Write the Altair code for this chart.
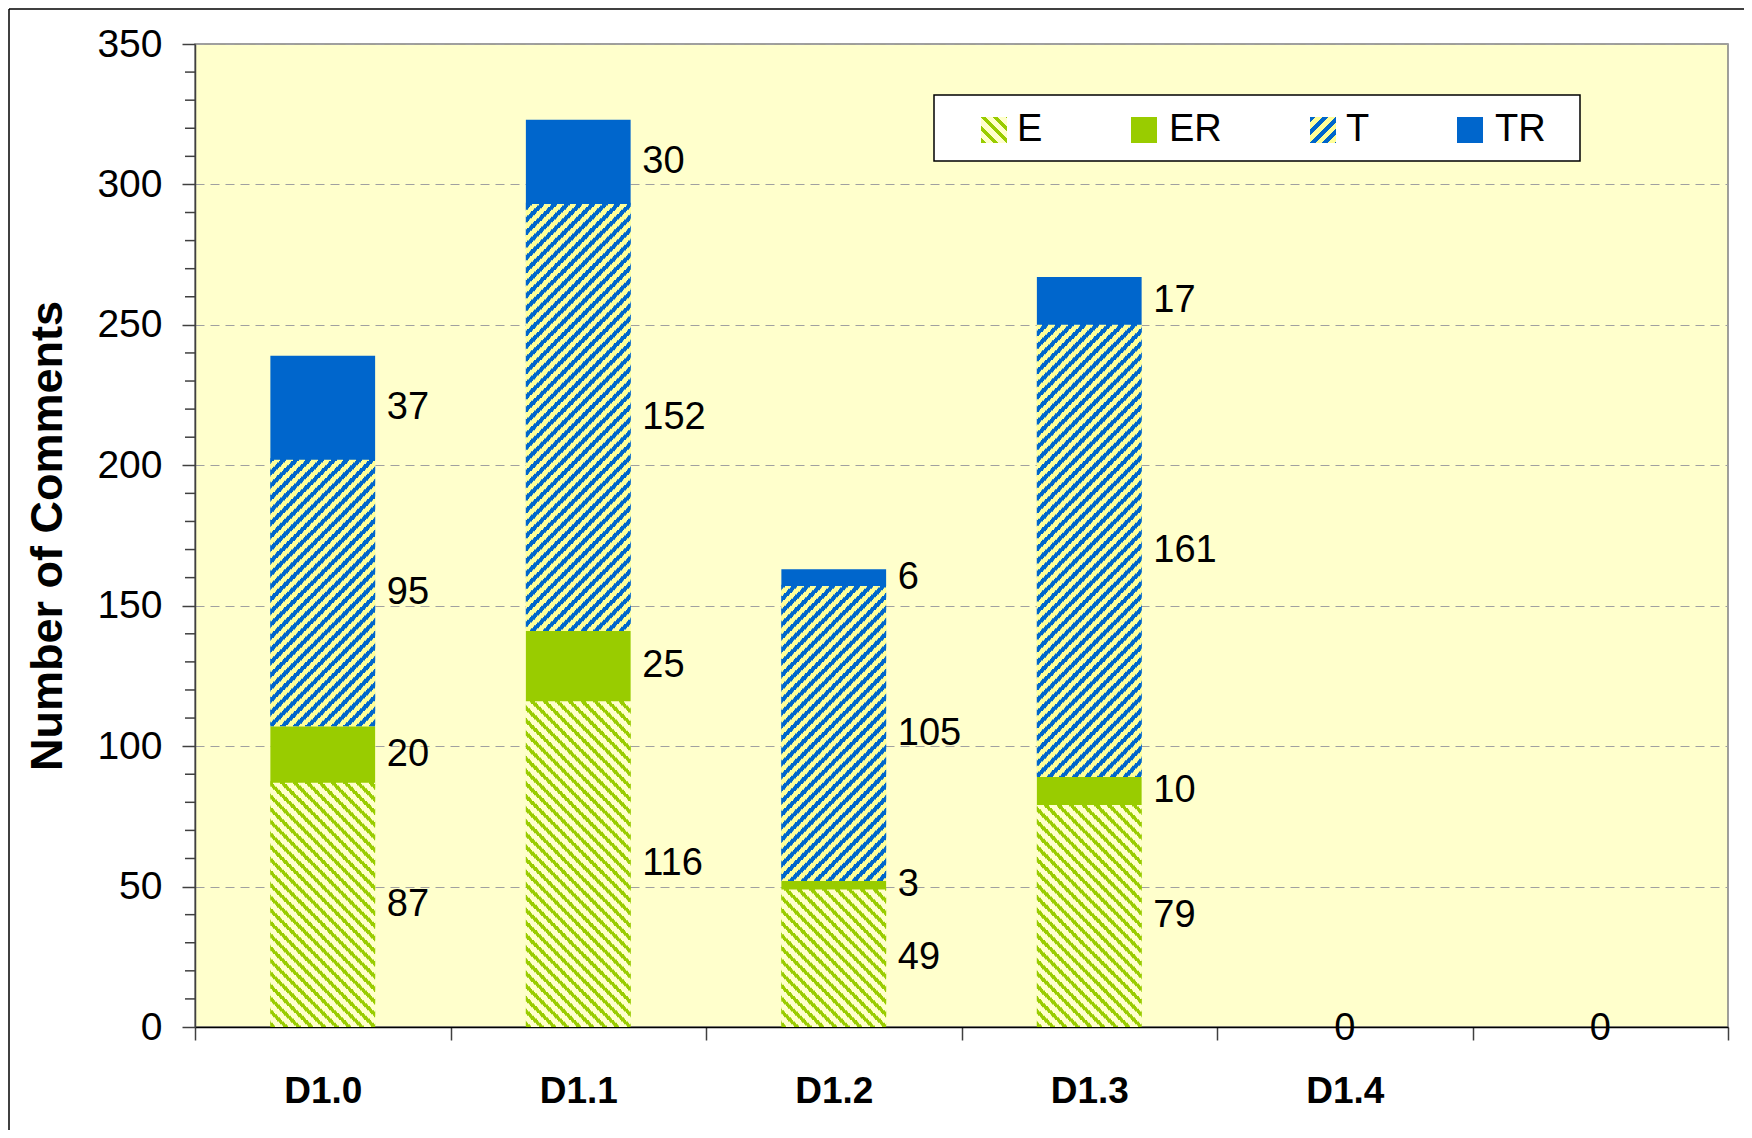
import math
import altair as alt

# ---------------- data ----------------
categories = ["D1.0", "D1.1", "D1.2", "D1.3", "D1.4", ""]
series = ["E", "ER", "T", "TR"]
E_vals = [87, 116, 49, 79, 0, 0]
ER_vals = [20, 25, 3, 10, 0, 0]
T_vals = [95, 152, 105, 161, 0, 0]
TR_vals = [37, 30, 6, 17, 0, 0]
values = {"E": E_vals, "ER": ER_vals, "T": T_vals, "TR": TR_vals}

y_major = list(range(0, 351, 50))
y_minor = [v for v in range(0, 351, 10) if v % 50]

# ---------------- style / layout ----------------
GREEN = "#99CC00"
BLUE = "#0066CC"
PLOT_BG = "#FFFFCC"
E_BG = "#FFFFCC"
T_BG = "#FFFF99"
FONT = "Liberation Sans"

PW, PH = 1533, 983
BAR_FRAC = 0.41
STEP = PW / len(categories)
BW = STEP * BAR_FRAC              # bar width in px
SUB = 2                           # pattern tiles per comment
TILE = PH / 350.0 / SUB           # px per tile
NPH = 9                           # phases of the stripe pattern
PERIOD = NPH * TILE               # horizontal stripe period (px)


def stripe_stops(fg, bg, frac, period, length, shift):
    pts = {0.0, float(length)}
    j = math.floor(-shift / period) - 1
    while True:
        a = shift + j * period
        if a > length:
            break
        for b in (a, a + frac * period):
            if 0 < b < length:
                pts.add(b)
        j += 1
    pts = sorted(pts)
    stops = []
    for a, b in zip(pts[:-1], pts[1:]):
        mid = (a + b) / 2
        col = fg if ((mid - shift) % period) < frac * period else bg
        stops.append({"offset": round(a / length, 5), "color": col})
        stops.append({"offset": round(b / length, 5), "color": col})
    return stops


def tile_fill(fg, bg, frac, direction):
    grads = []
    for p in range(NPH):
        grads.append({
            "gradient": "linear", "x1": 0, "y1": 0, "x2": 1, "y2": 0,
            "stops": stripe_stops(fg, bg, frac, PERIOD, BW, direction * p * TILE),
        })
    return alt.FillValue(
        value=grads[0],
        condition=[{"test": f"datum.ph == {p}", "value": grads[p]} for p in range(1, NPH)],
    )


def swatch_grad(fg, bg, frac, backslash):
    diag = 26 * math.sqrt(2)
    per = PERIOD / math.sqrt(2)
    g = {"gradient": "linear", "stops": stripe_stops(fg, bg, frac, per, diag, 0)}
    if backslash:
        g.update({"x1": 0, "y1": 1, "x2": 1, "y2": 0})
    else:
        g.update({"x1": 0, "y1": 0, "x2": 1, "y2": 1})
    return g


# ---------------- derived tables ----------------
segments = []
tiles = {"E": [], "T": []}
for ci, c in enumerate(categories):
    base = 0
    for s in series:
        v = values[s][ci]
        if v > 0:
            segments.append({"cat": c, "series": s, "y0": base, "y1": base + v,
                             "mid": base + v / 2, "label": str(v)})
            if s in tiles:
                for i in range(v * SUB):
                    k = base * SUB + i
                    y0 = k / SUB
                    tiles[s].append({"cat": c, "y0": y0, "y1": y0 + 1.0 / SUB + 0.5,
                                     "ph": k % NPH})
        base += v
zero_rows = [{"cat": c, "y": 0, "label": "0"} for ci, c in enumerate(categories)
             if sum(values[s][ci] for s in series) == 0]
solid_rows = [r for r in segments if r["series"] in ("ER", "TR")]

# ---------------- scales / axes ----------------
xscale = alt.Scale(domain=categories, paddingInner=0, paddingOuter=0)
yscale = alt.Scale(domain=[0, 350], nice=False, zero=True)

xaxis = alt.Axis(title=None, tickBand="extent", tickSize=13, tickWidth=1.5,
                 tickColor="#404040", domainColor="black", domainWidth=1.5,
                 labelFontSize=37, labelFontWeight="bold", labelColor="black",
                 labelPadding=33, labelAngle=0, labelFont=FONT)
yaxis = alt.Axis(values=y_major, title="Number of Comments", tickSize=13, tickWidth=1.5,
                 tickColor="#404040", domainColor="#404040", domainWidth=1.5,
                 labelFontSize=39, labelColor="black", labelPadding=20, labelFont=FONT,
                 grid=True, gridColor="#A0A0A0", gridDash=[9, 6], gridWidth=1.2,
                 titleFontSize=45, titleFontWeight="bold", titleColor="black",
                 titleFont=FONT, titleX=-148, titleY=491.5, titleBaseline="middle",
                 titleAlign="center")


def X():
    return alt.X("cat:N", scale=xscale, axis=xaxis)


def Y(field):
    return alt.Y(field, scale=yscale, axis=yaxis)


bar_width = {"band": BAR_FRAC}

# ---------------- layers ----------------
e_layer = alt.Chart(alt.Data(values=tiles["E"])).mark_bar(width=bar_width).encode(
    x=X(), y=Y("y0:Q"), y2="y1:Q",
    fill=tile_fill(GREEN, E_BG, 0.4, -1),
)

t_layer = alt.Chart(alt.Data(values=tiles["T"])).mark_bar(width=bar_width).encode(
    x=X(), y=Y("y0:Q"), y2="y1:Q",
    fill=tile_fill(BLUE, T_BG, 0.47, 1),
)

solid_layer = alt.Chart(alt.Data(values=solid_rows)).mark_bar(width=bar_width).encode(
    x=X(), y=Y("y0:Q"), y2="y1:Q",
    fill=alt.Fill("series:N", scale=alt.Scale(domain=series, range=[GREEN, GREEN, BLUE, BLUE]),
                  legend=None),
)

labels = alt.Chart(alt.Data(values=segments)).mark_text(
    align="left", baseline="middle", dx=64, fontSize=38, font=FONT, color="black"
).encode(
    x=X(), y=Y("mid:Q"), text="label:N",
)

zeros = alt.Chart(alt.Data(values=zero_rows)).mark_text(
    align="center", baseline="middle", dy=2, fontSize=38, font=FONT, color="black"
).encode(
    x=X(), y=Y("y:Q"), text="label:N",
)

minor = alt.Chart(alt.Data(values=[{"v": v} for v in y_minor])).mark_rule(
    color="#404040", strokeWidth=1.5
).encode(
    y=Y("v:Q"),
    x=alt.value(-10),
    x2=alt.value(0),
)

one = alt.Data(values=[{"o": 1}])

# outer chart frame (left and top edges visible)
frame_left = alt.Chart(one).mark_rule(color="black", strokeWidth=1.5).encode(
    x=alt.value(-186), y=alt.value(-35), y2=alt.value(1086))
frame_top = alt.Chart(one).mark_rule(color="black", strokeWidth=1.5).encode(
    x=alt.value(-186), x2=alt.value(1549), y=alt.value(-35))

# legend
legend_box = alt.Chart(one).mark_rect(fill="white", stroke="black", strokeWidth=1.5).encode(
    x=alt.value(739), x2=alt.value(1385), y=alt.value(51), y2=alt.value(117))

swatch_x = [786, 936, 1115, 1262]
text_x = [822, 974, 1151, 1300]
swatch_fill = [swatch_grad(GREEN, E_BG, 0.4, True), GREEN,
               swatch_grad(BLUE, T_BG, 0.47, False), BLUE]
legend_layers = [legend_box]
for i, s in enumerate(series):
    legend_layers.append(
        alt.Chart(one).mark_rect().encode(
            x=alt.value(swatch_x[i]), x2=alt.value(swatch_x[i] + 26),
            y=alt.value(73), y2=alt.value(99), fill=alt.value(swatch_fill[i]))
    )
    legend_layers.append(
        alt.Chart(one).mark_text(align="left", baseline="middle", fontSize=38,
                                 font=FONT, color="black").encode(
            x=alt.value(text_x[i]), y=alt.value(86), text=alt.value(s))
    )

chart = alt.layer(
    e_layer, t_layer, solid_layer, labels, zeros, minor,
    frame_left, frame_top, *legend_layers
).properties(
    width=PW, height=PH,
    autosize=alt.AutoSizeParams(type="none"),
    padding={"left": 187, "top": 36, "right": 16, "bottom": 103},
).configure_view(
    fill=PLOT_BG, stroke="#808080", strokeWidth=1.5
).configure_text(font=FONT)

chart.save("out.html", embed_options={"renderer": "svg", "actions": False})
